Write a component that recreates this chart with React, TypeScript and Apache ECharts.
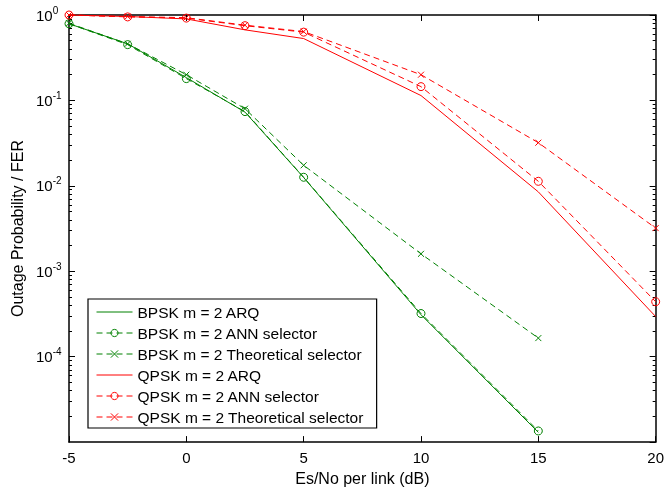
import React, { useEffect, useRef } from "react";
import * as echarts from "echarts";

const xGreen = [-5, -2.5, 0, 2.5, 5, 10, 15];
const xRed = [-5, -2.5, 0, 2.5, 5, 10, 15, 20];
const bpskArq = [0.79, 0.46, 0.185, 0.073, 0.0125, 3.1e-4, 1.3e-5];
const bpskAnn = [0.79, 0.45, 0.18, 0.074, 0.0126, 3.2e-4, 1.35e-5];
const bpskTheo = [0.8, 0.46, 0.2, 0.08, 0.0174, 1.6e-3, 1.65e-4];
const qpskArq = [1.0, 0.96, 0.9, 0.67, 0.53, 0.114, 8.5e-3, 2.95e-4];
const qpskAnn = [1.0, 0.95, 0.92, 0.75, 0.63, 0.145, 0.0113, 4.4e-4];
const qpskTheo = [1.0, 0.96, 0.93, 0.76, 0.64, 0.2, 0.032, 3.2e-3];
const seriesNames = [
  "BPSK m = 2 ARQ",
  "BPSK m = 2 ANN selector",
  "BPSK m = 2 Theoretical selector",
  "QPSK m = 2 ARQ",
  "QPSK m = 2 ANN selector",
  "QPSK m = 2 Theoretical selector",
];
const minorTickValues: number[] = [];
for (let e = -5; e < 0; e++) {
  for (let k = 2; k <= 9; k++) minorTickValues.push(k * Math.pow(10, e));
}

const GREEN = "#008000";
const RED = "#ff0000";
const FONT = "Liberation Sans, Arial, sans-serif";
const XSYM = "path://M0,0L10,10M10,0L0,10";

function pairs(xs: number[], ys: number[]) {
  return xs.map((x, i) => [x, ys[i]]);
}

function mk(name: string, xs: number[], ys: number[], color: string, kind: "solid" | "circle" | "x") {
  const dashed = kind !== "solid";
  return {
    name,
    type: "line",
    data: pairs(xs, ys),
    clip: false,
    symbol: kind === "solid" ? "circle" : kind === "circle" ? "circle" : XSYM,
    showSymbol: kind !== "solid",
    symbolSize: kind === "circle" ? 8 : 6,
    lineStyle: { color, width: 1, type: dashed ? [6, 4] : "solid" },
    itemStyle:
      kind === "solid"
        ? { color: "rgba(0,0,0,0)", borderColor: "rgba(0,0,0,0)", borderWidth: 0, opacity: 0 }
        : { color: kind === "x" ? color : "rgba(0,0,0,0)", borderColor: color, borderWidth: 1 },
    emphasis: { disabled: true },
    z: kind === "solid" ? 2 : 3,
  };
}

export default function App() {
  const ref = useRef<HTMLDivElement>(null);
  useEffect(() => {
    if (!ref.current) return;
    const chart = echarts.init(ref.current, undefined, { renderer: "svg" });
    const axisLine = { show: true, onZero: false, lineStyle: { color: "#000", width: 1.5 } };
    const yBase = {
      type: "log",
      logBase: 10,
      min: 1e-5,
      max: 1,
      splitLine: { show: false },
      axisLine,
    };
    const tick = (len: number, extra: any = {}) => ({
      show: true,
      inside: true,
      length: len,
      lineStyle: { color: "#000", width: 1 },
      ...extra,
    });
    chart.setOption({
      animation: false,
      textStyle: { fontFamily: FONT },
      grid: { left: 69, right: 5, top: 15, bottom: 43, containLabel: false },
      xAxis: [
        {
          type: "value",
          min: -5,
          max: 20,
          interval: 5,
          position: "bottom",
          name: "Es/No per link (dB)",
          nameLocation: "middle",
          nameGap: 24,
          nameTextStyle: { fontSize: 16, color: "#000", fontFamily: FONT },
          axisLine,
          axisTick: tick(6),
          axisLabel: { fontSize: 15, color: "#000", margin: 8, fontFamily: FONT },
          splitLine: { show: false },
        },
        {
          type: "value",
          min: -5,
          max: 20,
          interval: 5,
          position: "top",
          axisLine,
          axisTick: tick(6),
          axisLabel: { show: false },
          splitLine: { show: false },
        },
      ],
      yAxis: [
        {
          ...yBase,
          position: "left",
          name: "Outage Probability / FER",
          nameLocation: "middle",
          nameGap: 40,
          nameTextStyle: { fontSize: 16, color: "#000", fontFamily: FONT },
          axisTick: tick(6),
          axisLabel: {
            showMinLabel: false,
            align: "left",
            margin: 33,
            color: "#000",
            formatter: (v: number) => `{b|10}{s|${Math.round(Math.log10(v))}}`,
            rich: {
              b: { fontSize: 15, color: "#000", fontFamily: FONT },
              s: { fontSize: 10, color: "#000", fontFamily: FONT, padding: [0, 0, 10, 0] },
            },
          },
        },
        {
          ...yBase,
          position: "right",
          axisTick: tick(6),
          axisLabel: { show: false },
        },
        {
          ...yBase,
          position: "left",
          axisLine: { show: false, onZero: false },
          axisTick: tick(3, { customValues: minorTickValues }),
          axisLabel: { show: false },
        },
        {
          ...yBase,
          position: "right",
          axisLine: { show: false, onZero: false },
          axisTick: tick(3, { customValues: minorTickValues }),
          axisLabel: { show: false },
        },
      ],
      legend: {
        orient: "vertical",
        left: 88,
        top: 299,
        data: seriesNames,
        backgroundColor: "#fff",
        borderColor: "#000",
        borderWidth: 1.2,
        padding: [5, 13, 3, 8],
        itemWidth: 36,
        itemHeight: 9,
        itemGap: 5,
        lineStyle: { width: 1 },
        itemStyle: { borderWidth: 1 },
        textStyle: { fontSize: 15.5, lineHeight: 15, color: "#000", fontFamily: FONT },
      },
      series: [
        mk(seriesNames[0], xGreen, bpskArq, GREEN, "solid"),
        mk(seriesNames[1], xGreen, bpskAnn, GREEN, "circle"),
        mk(seriesNames[2], xGreen, bpskTheo, GREEN, "x"),
        mk(seriesNames[3], xRed, qpskArq, RED, "solid"),
        mk(seriesNames[4], xRed, qpskAnn, RED, "circle"),
        mk(seriesNames[5], xRed, qpskTheo, RED, "x"),
      ],
    });
    return () => chart.dispose();
  }, []);
  return <div ref={ref} style={{ position: "fixed", left: 0, top: 0, width: 667, height: 491 }} />;
}
